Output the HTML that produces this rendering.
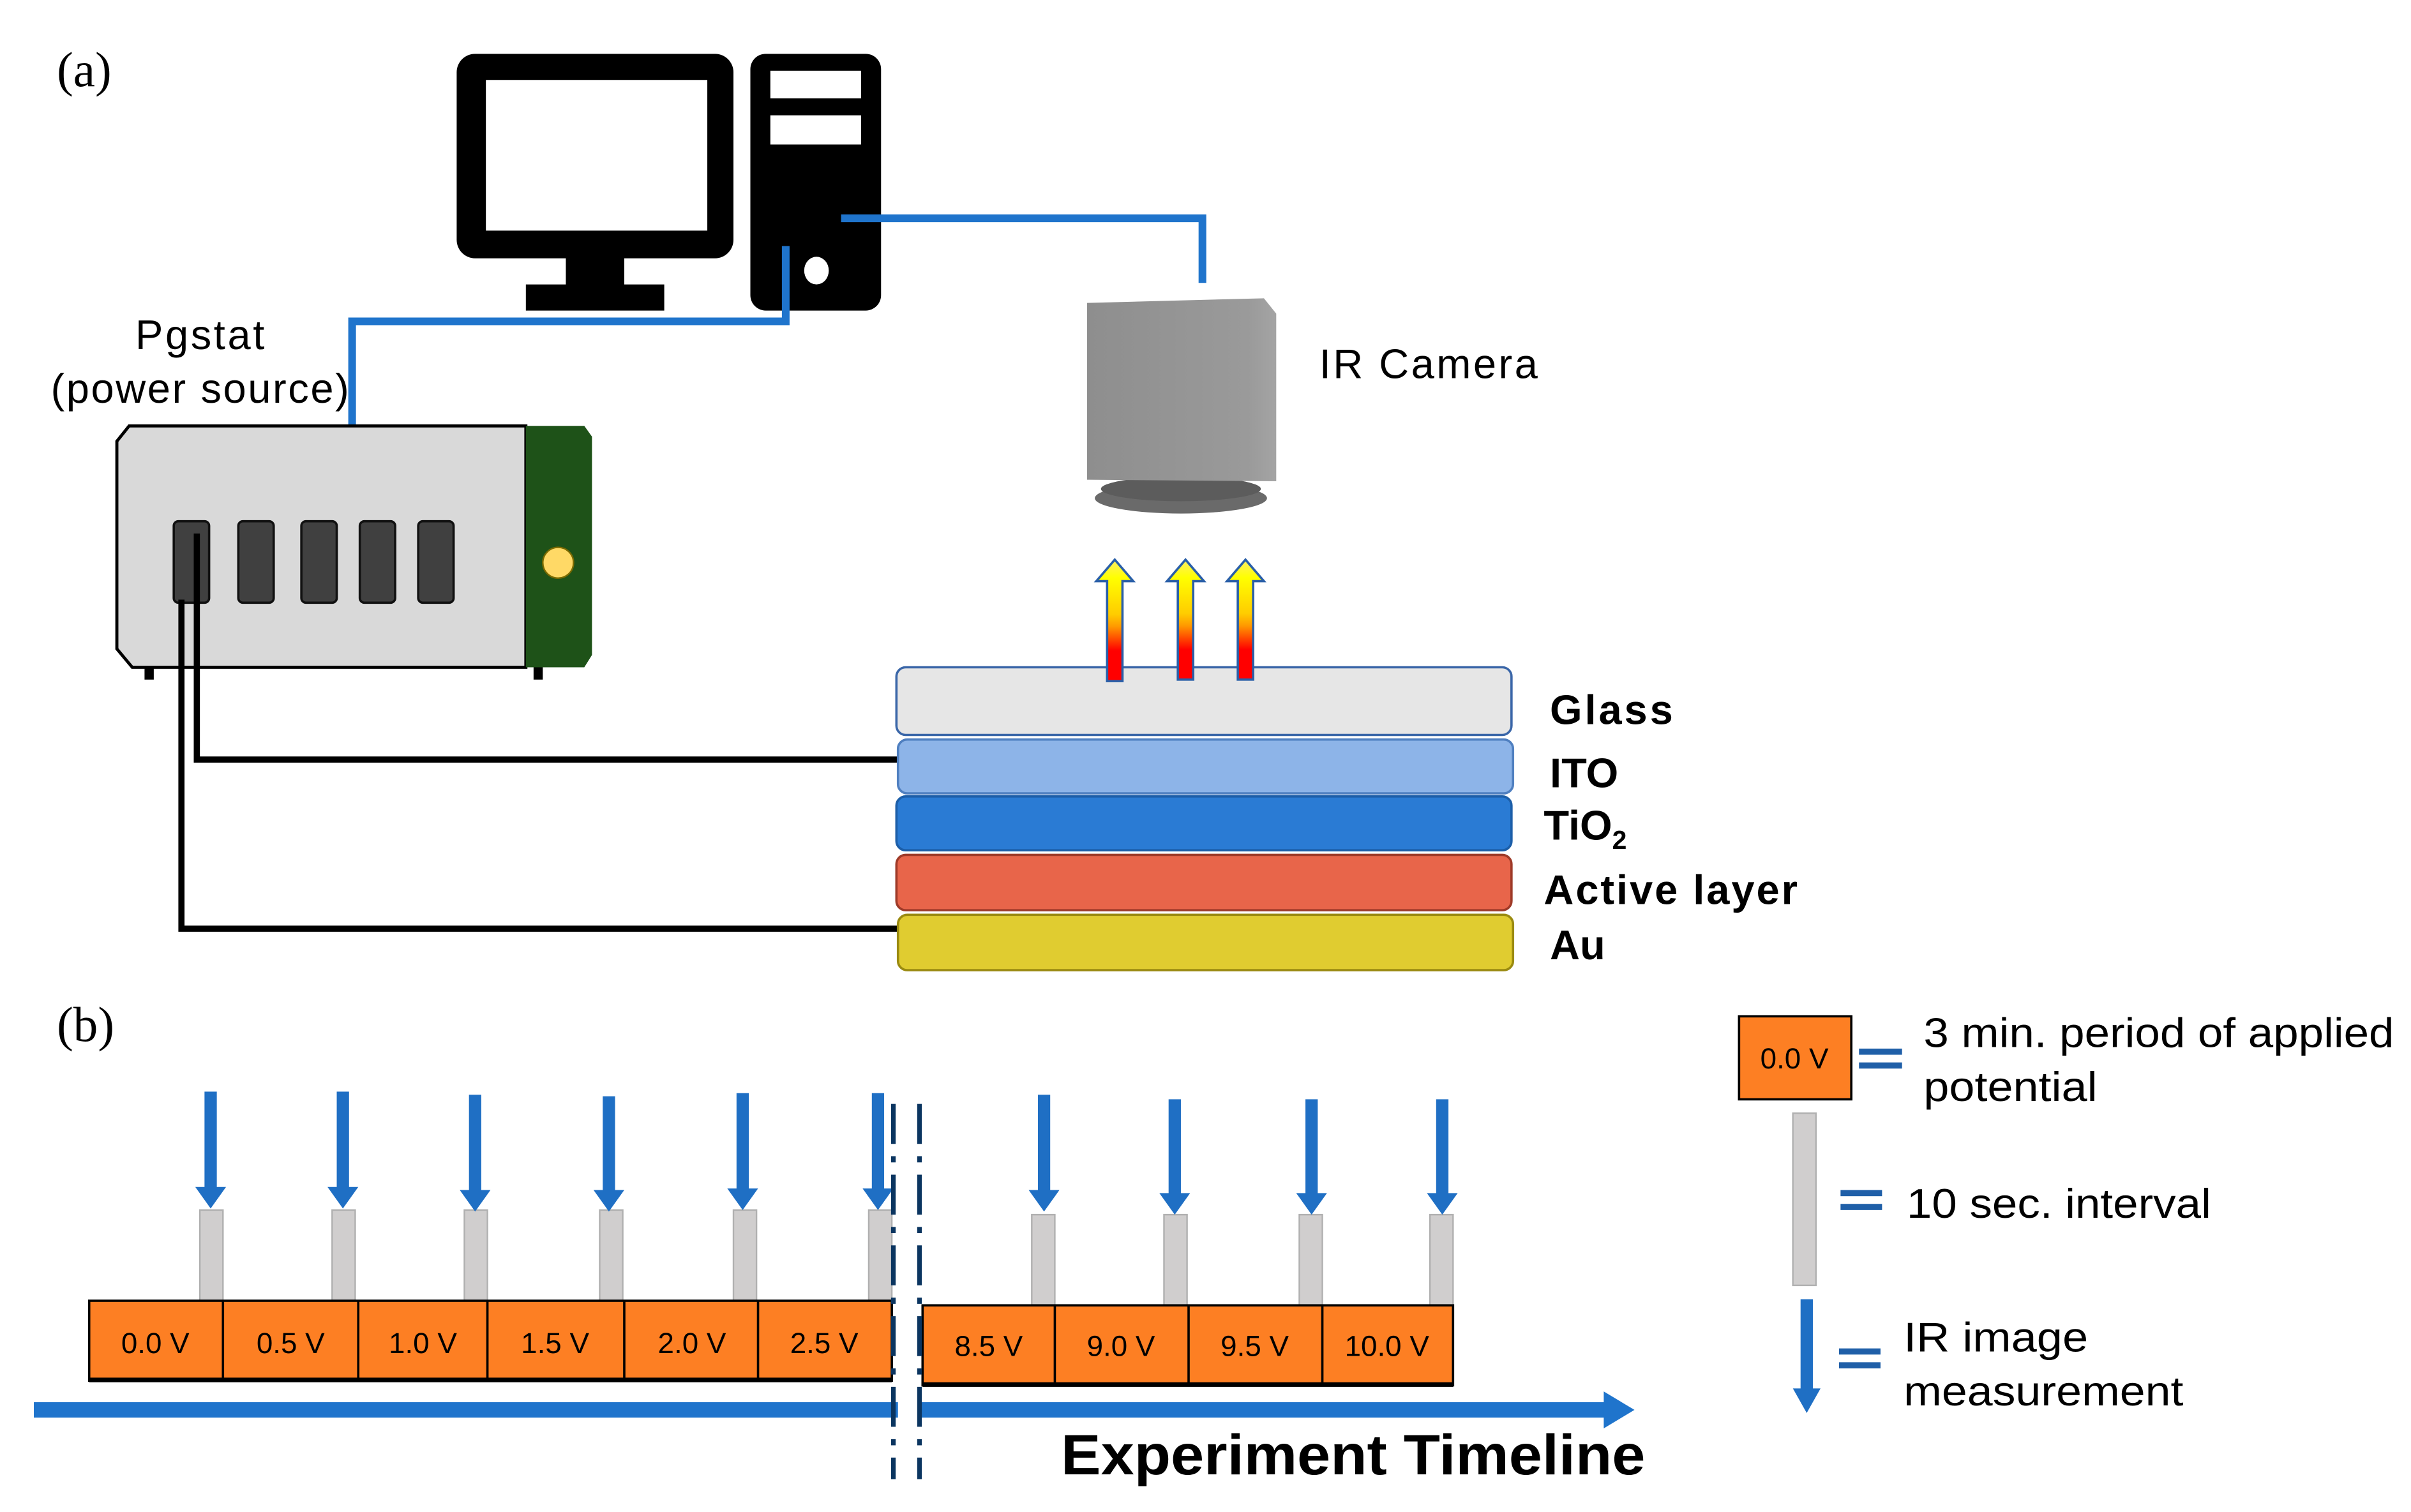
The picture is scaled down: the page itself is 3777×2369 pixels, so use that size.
<!DOCTYPE html>
<html><head><meta charset="utf-8"><style>html,body{margin:0;padding:0;background:#fff;}svg{display:block;}</style></head>
<body>
<svg width="3777" height="2369" viewBox="0 0 1568 983.4" preserveAspectRatio="none" xmlns="http://www.w3.org/2000/svg">
<defs>
<linearGradient id="heat" x1="0" y1="1" x2="0" y2="0">
<stop offset="0" stop-color="#ff0000"/><stop offset="0.25" stop-color="#ff0000"/><stop offset="0.45" stop-color="#ff9900"/><stop offset="0.55" stop-color="#ffcc00"/><stop offset="0.85" stop-color="#ffff00"/><stop offset="1" stop-color="#ffee66"/></linearGradient>
<linearGradient id="cam" x1="0" y1="0" x2="1" y2="0"><stop offset="0" stop-color="#8e8e8e"/><stop offset="0.85" stop-color="#9a9a9a"/><stop offset="1" stop-color="#a4a4a4"/></linearGradient>
</defs>
<g font-family="Liberation Sans, sans-serif">
<text x="37" y="56" font-family="Liberation Serif, serif" font-size="32">(a)</text>
<text x="37" y="677" font-family="Liberation Serif, serif" font-size="32">(b)</text>

<rect x="297" y="35" width="180" height="133" rx="12" fill="#000"/>
<rect x="316" y="52" width="144" height="98" fill="#fff"/>
<rect x="368" y="166" width="38" height="22" fill="#000"/>
<rect x="342" y="185" width="90" height="17" fill="#000"/>
<rect x="488" y="35" width="85" height="167" rx="10" fill="#000"/>
<rect x="501" y="46" width="59" height="18" fill="#fff"/>
<rect x="501" y="75" width="59" height="19" fill="#fff"/>
<ellipse cx="531" cy="176" rx="8" ry="9" fill="#fff"/>
<polyline points="547,142 782,142 782,184" fill="none" stroke="#1f74cc" stroke-width="5"/>
<polyline points="511,160 511,209 229,209 229,277" fill="none" stroke="#1f74cc" stroke-width="5"/>

<text x="130" y="227" font-size="27" text-anchor="middle" textLength="84">Pgstat</text>
<text x="130" y="262" font-size="27" text-anchor="middle" textLength="194">(power source)</text>

<rect x="94" y="430" width="6" height="12" fill="#000"/>
<rect x="347" y="430" width="6" height="12" fill="#000"/>
<path d="M84,277 L342,277 L342,434 L86,434 L76,422 L76,287 Z" fill="#d9d9d9" stroke="#000" stroke-width="2"/>
<path d="M342,277 L380,277 L385,284 L385,426 L380,434 L342,434 Z" fill="#1e5218"/>
<circle cx="363" cy="366" r="10" fill="#ffd966" stroke="#7a6a00" stroke-width="1"/>
<g fill="#404040" stroke="#111" stroke-width="1.5">
<rect x="113" y="339" width="23" height="53" rx="3"/>
<rect x="155" y="339" width="23" height="53" rx="3"/>
<rect x="196" y="339" width="23" height="53" rx="3"/>
<rect x="234" y="339" width="23" height="53" rx="3"/>
<rect x="272" y="339" width="23" height="53" rx="3"/>
</g>
<polyline points="128,347 128,494 584,494" fill="none" stroke="#000" stroke-width="4"/>
<polyline points="118,390 118,604 584,604" fill="none" stroke="#000" stroke-width="4"/>

<ellipse cx="768" cy="324" rx="56" ry="10" fill="#6a6a6a"/>
<ellipse cx="768" cy="318" rx="52" ry="8" fill="#5c5c5c"/>
<path d="M707,197 L822,194 L830,204 L830,313 L707,312 Z" fill="url(#cam)"/>
<text x="858" y="246" font-size="27" textLength="142">IR Camera</text>

<rect x="583" y="434" width="400" height="44" rx="6" fill="#e6e6e6" stroke="#3a66a8" stroke-width="1.5"/>
<rect x="584" y="481" width="400" height="35" rx="6" fill="#8db4e8" stroke="#4f7fc0" stroke-width="1.5"/>
<rect x="583" y="518" width="400" height="35" rx="6" fill="#2a7bd4" stroke="#1c5ea8" stroke-width="1.5"/>
<rect x="583" y="556" width="400" height="36" rx="6" fill="#e8654a" stroke="#9e3a28" stroke-width="1.5"/>
<rect x="584" y="595" width="400" height="36" rx="6" fill="#e0cc30" stroke="#9a8a10" stroke-width="1.5"/>
<g font-weight="bold" font-size="27">
<text x="1008" y="471" textLength="80">Glass</text>
<text x="1008" y="512">ITO</text>
<text x="1004" y="546">TiO<tspan font-size="17" dy="6">2</tspan></text>
<text x="1004" y="588" textLength="165">Active layer</text>
<text x="1008" y="624">Au</text>
</g>
<g fill="url(#heat)" stroke="#2a5fa8" stroke-width="1.5">
<path d="M720,443 L720,378 L713,378 L725,364 L737,378 L730,378 L730,443 Z"/>
<path d="M766,442 L766,378 L759,378 L771,364 L783,378 L776,378 L776,442 Z"/>
<path d="M805,442 L805,378 L798,378 L810,364 L822,378 L815,378 L815,442 Z"/>
</g>

<g fill="#d0cece" stroke="#b0b0b0" stroke-width="1">
<rect x="130" y="787" width="15" height="60"/><rect x="216" y="787" width="15" height="60"/><rect x="302" y="787" width="15" height="60"/><rect x="390" y="787" width="15" height="60"/><rect x="477" y="787" width="15" height="60"/><rect x="565" y="787" width="15" height="60"/>
<rect x="671" y="790" width="15" height="60"/><rect x="757" y="790" width="15" height="60"/><rect x="845" y="790" width="15" height="60"/><rect x="930" y="790" width="15" height="60"/>
<rect x="1166" y="724" width="15" height="112"/>
</g>
<g fill="#1f6fc4">
<path d="M133,710 h8 v62 h6 l-10,14 l-10,-14 h6 z"/>
<path d="M219,710 h8 v62 h6 l-10,14 l-10,-14 h6 z"/>
<path d="M305,712 h8 v62 h6 l-10,14 l-10,-14 h6 z"/>
<path d="M392,713 h8 v61 h6 l-10,14 l-10,-14 h6 z"/>
<path d="M479,711 h8 v62 h6 l-10,14 l-10,-14 h6 z"/>
<path d="M567,711 h8 v62 h6 l-10,14 l-10,-14 h6 z"/>
<path d="M675,712 h8 v62 h6 l-10,14 l-10,-14 h6 z"/>
<path d="M760,715 h8 v61 h6 l-10,14 l-10,-14 h6 z"/>
<path d="M849,715 h8 v61 h6 l-10,14 l-10,-14 h6 z"/>
<path d="M934,715 h8 v61 h6 l-10,14 l-10,-14 h6 z"/>
<path d="M1171,845 h8 v58 h5 l-9,16 l-9,-16 h5 z"/>
</g>
<g stroke="#000" stroke-width="1.5" fill="#fd7f23">
<rect x="58" y="846" width="522" height="52"/>
<rect x="600" y="849" width="345" height="52"/>
<rect x="1131" y="661" width="73" height="54"/>
</g>
<g stroke="#000" stroke-width="1.5">
<line x1="145" y1="846" x2="145" y2="898"/><line x1="233" y1="846" x2="233" y2="898"/><line x1="317" y1="846" x2="317" y2="898"/><line x1="406" y1="846" x2="406" y2="898"/><line x1="493" y1="846" x2="493" y2="898"/>
<line x1="686" y1="849" x2="686" y2="901"/><line x1="773" y1="849" x2="773" y2="901"/><line x1="860" y1="849" x2="860" y2="901"/>
</g>
<rect x="58" y="896" width="522" height="3" fill="#000"/>
<rect x="600" y="899" width="345" height="3" fill="#000"/>
<g font-size="19" text-anchor="middle">
<text x="101" y="880">0.0 V</text><text x="189" y="880">0.5 V</text><text x="275" y="880">1.0 V</text><text x="361" y="880">1.5 V</text><text x="450" y="880">2.0 V</text><text x="536" y="880">2.5 V</text>
<text x="643" y="882">8.5 V</text><text x="729" y="882">9.0 V</text><text x="816" y="882">9.5 V</text><text x="902" y="882">10.0 V</text>
<text x="1167" y="695">0.0 V</text>
</g>
<rect x="22" y="912" width="1025" height="10" fill="#1f74cc"/>
<path d="M1043,905 L1063,917 L1043,929 Z" fill="#1f74cc"/>
<rect x="584" y="905" width="13" height="24" fill="#fff"/>
<g stroke="#0b3560" stroke-width="3" stroke-dasharray="26,8,4,8">
<line x1="581" y1="718" x2="581" y2="962"/>
<line x1="598" y1="718" x2="598" y2="962"/>
</g>
<text x="690" y="959" font-size="37" font-weight="bold" textLength="380" lengthAdjust="spacingAndGlyphs">Experiment Timeline</text>

<g fill="#1f5fa8">
<rect x="1209" y="682" width="28" height="4"/><rect x="1209" y="691" width="28" height="4"/>
<rect x="1197" y="774" width="27" height="4"/><rect x="1197" y="783" width="27" height="4"/>
<rect x="1196" y="877" width="27" height="4"/><rect x="1196" y="886" width="27" height="4"/>
</g>
<g font-size="27">
<text x="1251" y="681" textLength="306" lengthAdjust="spacingAndGlyphs">3 min. period of applied</text>
<text x="1251" y="716" textLength="113" lengthAdjust="spacingAndGlyphs">potential</text>
<text x="1240" y="792" textLength="198" lengthAdjust="spacingAndGlyphs">10 sec. interval</text>
<text x="1238" y="879" textLength="120" lengthAdjust="spacingAndGlyphs">IR image</text>
<text x="1238" y="914" textLength="182" lengthAdjust="spacingAndGlyphs">measurement</text>
</g>
</g>
</svg>
</body></html>
